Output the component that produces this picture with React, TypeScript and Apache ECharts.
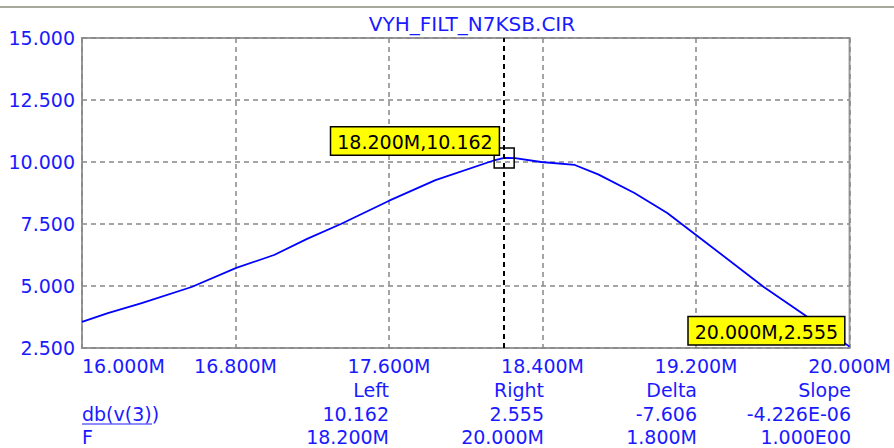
import React, { useEffect, useRef } from "react";
import * as echarts from "echarts";

const chartTitle = "VYH_FILT_N7KSB.CIR";
const freqs = [16.0, 16.135, 16.311, 16.571, 16.804, 17.001, 17.173, 17.349, 17.598, 17.842, 18.153, 18.2, 18.257, 18.392, 18.568, 18.69, 18.879, 19.05, 19.2, 19.553, 19.766, 20.0];
const dbValues = [3.55, 3.91, 4.31, 4.96, 5.73, 6.25, 6.9, 7.5, 8.43, 9.27, 10.08, 10.162, 10.16, 10.0, 9.88, 9.5, 8.75, 7.94, 7.06, 4.96, 3.83, 2.555];
const leftCursor = [18.2, 10.162];
const rightCursor = [20.0, 2.555];
const tableHeaders = ["Left", "Right", "Delta", "Slope"];
const rowLabels = ["db(v(3))", "F"];
const tableRows = [
  ["10.162", "2.555", "-7.606", "-4.226E-06"],
  ["18.200M", "20.000M", "1.800M", "1.000E00"],
];

const FONT = "DejaVu Sans";
const BLUE = "#1a1aff";

export default function App() {
  const ref = useRef<HTMLDivElement>(null);
  useEffect(() => {
    if (!ref.current) return;
    const chart = echarts.init(ref.current, null, { renderer: "svg" });
    const colRight = [389, 544, 697, 851];
    const rowY = [390, 414, 437];
    const graphics: any[] = [
      { type: "line", shape: { x1: 0, y1: 7, x2: 894, y2: 7 }, style: { stroke: "#a8a79c", lineWidth: 2 } },
    ];
    tableHeaders.forEach((h, i) => {
      graphics.push({ type: "text", x: colRight[i], y: rowY[0], style: { text: h, fill: BLUE, font: `19px '${FONT}'`, align: "right", verticalAlign: "middle" } });
    });
    rowLabels.forEach((l, r) => {
      graphics.push({ type: "text", x: 82, y: rowY[r + 1], style: { text: l, fill: BLUE, font: `19px '${FONT}'`, align: "left", verticalAlign: "middle" } });
      tableRows[r].forEach((v, i) => {
        graphics.push({ type: "text", x: colRight[i], y: rowY[r + 1], style: { text: v, fill: BLUE, font: `19px '${FONT}'`, align: "right", verticalAlign: "middle" } });
      });
    });
    graphics.push({ type: "line", shape: { x1: 82, y1: 424, x2: 152, y2: 424 }, style: { stroke: BLUE, lineWidth: 1 } });

    const boxLabel = (text: string, pos: number[]) => ({
      show: true,
      formatter: text,
      position: pos,
      align: "right",
      verticalAlign: "bottom",
      color: "#000",
      fontFamily: FONT,
      fontSize: 19,
      backgroundColor: "#ffff00",
      borderColor: "#000",
      borderWidth: 1.5,
      padding: [5, 6, 3, 6],
    });

    chart.setOption({
      animation: false,
      backgroundColor: "#ffffff",
      title: {
        text: chartTitle,
        left: 467,
        textAlign: "center",
        top: 9,
        textStyle: { color: BLUE, fontFamily: FONT, fontSize: 20, fontWeight: "normal" },
      },
      grid: { left: 82, right: 41, top: 38, bottom: 100, show: true, borderColor: "#999", borderWidth: 2, backgroundColor: "transparent" },
      xAxis: {
        type: "value",
        min: 16,
        max: 20,
        interval: 0.8,
        axisLine: { show: false },
        axisTick: { show: false },
        splitLine: { show: true, lineStyle: { color: "#888", type: [5, 4], width: 1.5 } },
        axisLabel: {
          color: BLUE,
          fontFamily: FONT,
          fontSize: 19,
          margin: 8,
          alignMinLabel: "left",
          formatter: (v: number) => v.toFixed(3) + "M",
        },
      },
      yAxis: {
        type: "value",
        min: 2.5,
        max: 15,
        interval: 2.5,
        axisLine: { show: false },
        axisTick: { show: false },
        splitLine: { show: true, lineStyle: { color: "#888", type: [5, 4], width: 1.5 } },
        axisLabel: {
          color: BLUE,
          fontFamily: FONT,
          fontSize: 19,
          margin: 7,
          formatter: (v: number) => v.toFixed(3),
        },
      },
      series: [
        {
          type: "line",
          data: freqs.map((f, i) => [f, dbValues[i]]),
          showSymbol: false,
          symbol: "none",
          lineStyle: { color: "#0000ff", width: 1.8 },
          markLine: {
            silent: true,
            symbol: "none",
            label: { show: false },
            lineStyle: { color: "#000", type: [5, 4], width: 2 },
            data: [{ xAxis: leftCursor[0] }],
          },
          markPoint: {
            silent: true,
            data: [
              {
                coord: leftCursor,
                symbol: "rect",
                symbolSize: 20,
                itemStyle: { color: "rgba(0,0,0,0)", borderColor: "#000", borderWidth: 1.5 },
                label: { show: false },
              },
              {
                coord: leftCursor,
                symbol: "rect",
                symbolSize: 1,
                itemStyle: { color: "rgba(0,0,0,0)" },
                label: boxLabel(`${leftCursor[0].toFixed(3)}M,${leftCursor[1].toFixed(3)}`, [-5, -3]),
              },
              {
                coord: rightCursor,
                symbol: "rect",
                symbolSize: 1,
                itemStyle: { color: "rgba(0,0,0,0)" },
                label: boxLabel(`${rightCursor[0].toFixed(3)}M,${rightCursor[1].toFixed(3)}`, [-5, -2]),
              },
            ],
          },
        },
      ],
      graphic: graphics,
    });
    return () => chart.dispose();
  }, []);
  return <div ref={ref} style={{ position: "fixed", left: 0, top: 0, width: 894, height: 448 }} />;
}
